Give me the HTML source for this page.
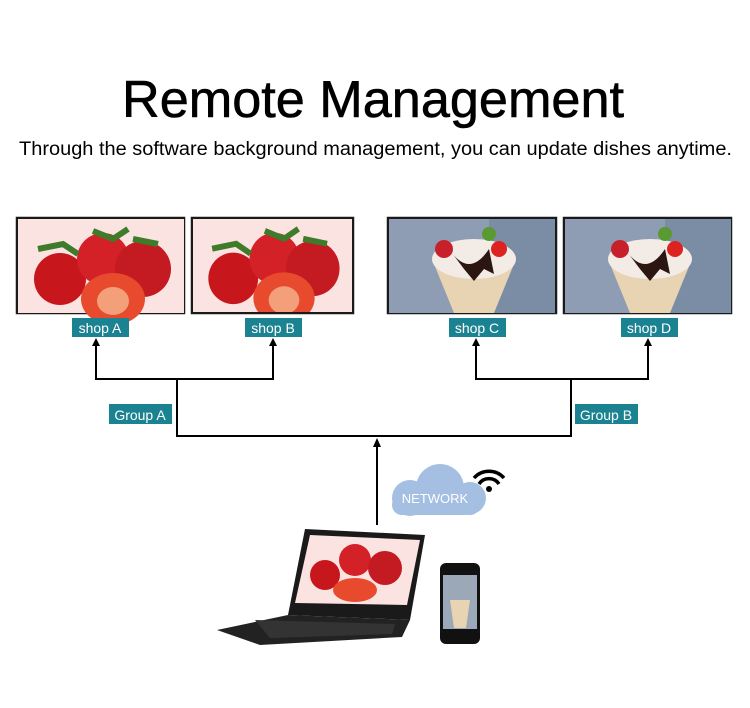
<!DOCTYPE html>
<html><head><style>body{margin:0;background:#fff}svg{display:block}</style></head><body>
<svg width="750" height="708" viewBox="0 0 750 708" xmlns="http://www.w3.org/2000/svg" font-family="Liberation Sans, sans-serif">
<defs>
<g id="straw">
<rect width="166" height="94" fill="#fbe3e1"/>
<circle cx="42" cy="60" r="26" fill="#c8161d"/>
<circle cx="85" cy="40" r="26" fill="#d42027"/>
<circle cx="125" cy="50" r="28" fill="#c41a22"/>
<ellipse cx="95" cy="80" rx="32" ry="26" fill="#e84a2e"/>
<ellipse cx="95" cy="82" rx="16" ry="14" fill="#f3a07a"/>
<path d="M20 30 L45 25 L60 35 M75 12 L95 20 L110 10 M115 20 L140 25" stroke="#3e7b2a" stroke-width="6" fill="none"/>
</g>
<g id="ice">
<rect width="166" height="94" fill="#8e9db3"/>
<rect x="100" width="66" height="94" fill="#7b8ca5"/>
<path d="M45 45 L125 45 L105 94 L65 94 Z" fill="#e8d3b3"/>
<ellipse cx="85" cy="40" rx="42" ry="20" fill="#f3ece6"/>
<path d="M60 30 Q80 60 100 30 L105 55 L95 50 L85 62 L75 50 Z" fill="#2b1612"/>
<circle cx="55" cy="30" r="9" fill="#c8202a"/><circle cx="110" cy="30" r="8" fill="#d22"/>
<circle cx="100" cy="15" r="7" fill="#5a9a33"/>
</g>
</defs>
<text x="122" y="117" font-size="52" textLength="502" lengthAdjust="spacingAndGlyphs" fill="#000" stroke="#000" stroke-width="0.6">Remote Management</text>
<text x="19" y="155" font-size="19" textLength="713" lengthAdjust="spacingAndGlyphs" fill="#000">Through the software background management, you can update dishes anytime.</text>

<g stroke="#1a1a1a" stroke-width="2.5" fill="none"><rect x="17" y="218" width="167" height="95"/><rect x="192" y="218" width="161" height="95"/><rect x="388" y="218" width="168" height="95"/><rect x="564" y="218" width="167" height="95"/></g>
<g transform="translate(18,219)"><use href="#straw"/></g>
<svg x="193" y="219" width="159" height="93" viewBox="0 0 166 94" preserveAspectRatio="none"><use href="#straw"/></svg>
<g transform="translate(389,219)"><use href="#ice"/></g>
<g transform="translate(565,219)"><use href="#ice"/></g>

<g fill="#1a8290"><rect x="72" y="318" width="57" height="19"/><rect x="245" y="318" width="57" height="19"/><rect x="449" y="318" width="57" height="19"/><rect x="621" y="318" width="57" height="19"/><rect x="109" y="404" width="63" height="20"/><rect x="575" y="404" width="63" height="20"/></g>
<g fill="#fff" font-size="14" text-anchor="middle"><text x="100" y="333">shop A</text><text x="273" y="333">shop B</text><text x="477" y="333">shop C</text><text x="649" y="333">shop D</text><text x="140" y="420">Group A</text><text x="606" y="420">Group B</text></g>

<g stroke="#000" stroke-width="2" fill="none">
<path d="M96 342 V379 H273 V342 M177 379 V436 H571 V379 M476 342 V379 H648 V342 M377 444 V525"/>
</g>
<g fill="#000"><path d="M96 338 l-4 8 h8z M273 338 l-4 8 h8z M476 338 l-4 8 h8z M648 338 l-4 8 h8z M377 438 l-4 9 h8z"/></g>

<g fill="#a4bfe2"><circle cx="410" cy="498" r="18"/><circle cx="440" cy="488" r="24"/><circle cx="470" cy="498" r="16"/><rect x="392" y="495" width="88" height="20" rx="10"/></g>
<text x="435" y="503" font-size="13" fill="#fff" text-anchor="middle">NETWORK</text>
<g fill="none" stroke="#000" stroke-width="3.5"><path d="M474 478 a20 20 0 0 1 30 0"/><path d="M479 484 a12 12 0 0 1 20 0"/></g><circle cx="489" cy="489" r="3" fill="#000"/>

<path d="M305 529 L425 535 L410 620 L288 615 Z" fill="#1a1a1a"/>
<path d="M310 535 L420 540 L407 605 L295 603 Z" fill="#fbe3e1"/>
<circle cx="325" cy="575" r="15" fill="#c8161d"/><circle cx="355" cy="560" r="16" fill="#d42027"/><circle cx="385" cy="568" r="17" fill="#c41a22"/><ellipse cx="355" cy="590" rx="22" ry="12" fill="#e84a2e"/>
<path d="M288 615 L410 620 L402 637 L260 645 L217 630 Z" fill="#222"/>
<path d="M255 620 L395 624 L392 634 L270 638 Z" fill="#333"/>

<rect x="440" y="563" width="40" height="81" rx="6" fill="#111"/>
<rect x="443" y="575" width="34" height="54" fill="#9aa8b8"/>
<path d="M450 600 L470 600 L466 628 L454 628Z" fill="#e8d3b3"/>
</svg>
</body></html>
